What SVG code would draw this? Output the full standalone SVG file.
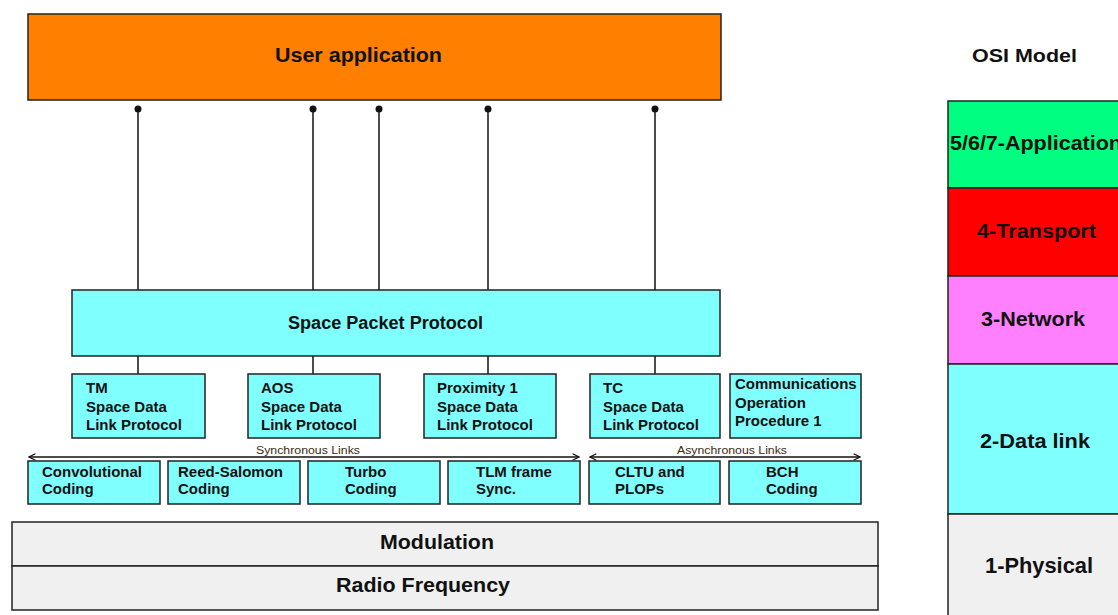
<svg xmlns="http://www.w3.org/2000/svg" width="1118" height="615" viewBox="0 0 1118 615">
<defs>
<style>
.box{stroke:#222;stroke-width:1.5}
.cy{fill:#80FFFF}
.t{font-family:"Liberation Sans",Arial,sans-serif;font-weight:bold;fill:#111}
.s{font-size:15px}
.big{font-size:20px}
.lnk{font-family:"Liberation Sans",Arial,sans-serif;font-size:10px;fill:#3a2a10}
.ln{stroke:#111;stroke-width:1.5;fill:none}
</style>
<marker id="ah" viewBox="0 0 10 10" refX="9" refY="5" markerWidth="8" markerHeight="8" orient="auto-start-reverse" markerUnits="userSpaceOnUse">
<path d="M1,1 L9,5 L1,9" fill="none" stroke="#111" stroke-width="1.5"/>
</marker>
</defs>
<rect width="1118" height="615" fill="#fff"/>

<g id="user-application">
<rect class="box" x="28" y="14" width="693" height="86" fill="#FF8000"/>
<text class="t" x="275" y="62" font-size="21" textLength="167" lengthAdjust="spacingAndGlyphs">User application</text>
</g>

<g id="connectors">
<line class="ln" x1="138" y1="109" x2="138" y2="290"/>
<line class="ln" x1="313" y1="109" x2="313" y2="290"/>
<line class="ln" x1="379" y1="109" x2="379" y2="290"/>
<line class="ln" x1="488" y1="109" x2="488" y2="290"/>
<line class="ln" x1="655" y1="109" x2="655" y2="290"/>
<circle cx="138" cy="109" r="3.5" fill="#111"/>
<circle cx="313" cy="109" r="3.5" fill="#111"/>
<circle cx="379" cy="109" r="3.5" fill="#111"/>
<circle cx="488" cy="109" r="3.5" fill="#111"/>
<circle cx="655" cy="109" r="3.5" fill="#111"/>
<line class="ln" x1="138" y1="356" x2="138" y2="374"/>
<line class="ln" x1="313" y1="356" x2="313" y2="374"/>
<line class="ln" x1="488" y1="356" x2="488" y2="374"/>
<line class="ln" x1="655" y1="356" x2="655" y2="374"/>
<line class="ln" x1="29" y1="457" x2="579" y2="457" marker-start="url(#ah)" marker-end="url(#ah)"/>
<line class="ln" x1="590" y1="457" x2="860" y2="457" marker-start="url(#ah)" marker-end="url(#ah)"/>
<text class="lnk" x="256" y="454" textLength="104" lengthAdjust="spacingAndGlyphs">Synchronous Links</text>
<text class="lnk" x="677" y="454" textLength="110" lengthAdjust="spacingAndGlyphs">Asynchronous Links</text>
</g>

<g id="space-packet-protocol">
<rect class="box cy" x="72" y="290" width="648" height="66"/>
<text class="t" x="288" y="329" font-size="17.5" textLength="195" lengthAdjust="spacingAndGlyphs">Space Packet Protocol</text>
</g>

<g id="tm">
<rect class="box cy" x="72" y="374" width="133" height="64"/>
<text class="t s" x="86" y="393">TM</text>
<text class="t s" x="86" y="412">Space Data</text>
<text class="t s" x="86" y="430">Link Protocol</text>
</g>
<g id="aos">
<rect class="box cy" x="248" y="374" width="132" height="64"/>
<text class="t s" x="261" y="393">AOS</text>
<text class="t s" x="261" y="412">Space Data</text>
<text class="t s" x="261" y="430">Link Protocol</text>
</g>
<g id="proximity1">
<rect class="box cy" x="424" y="374" width="132" height="64"/>
<text class="t s" x="437" y="393">Proximity 1</text>
<text class="t s" x="437" y="412">Space Data</text>
<text class="t s" x="437" y="430">Link Protocol</text>
</g>
<g id="tc">
<rect class="box cy" x="590" y="374" width="130" height="64"/>
<text class="t s" x="603" y="393">TC</text>
<text class="t s" x="603" y="412">Space Data</text>
<text class="t s" x="603" y="430">Link Protocol</text>
</g>
<g id="cop1">
<rect class="box cy" x="730" y="374" width="131" height="64"/>
<text class="t s" x="735" y="389">Communications</text>
<text class="t s" x="735" y="408">Operation</text>
<text class="t s" x="735" y="426">Procedure 1</text>
</g>

<g id="convolutional">
<rect class="box cy" x="28" y="461" width="132" height="43"/>
<text class="t s" x="42" y="477">Convolutional</text>
<text class="t s" x="42" y="494">Coding</text>
</g>
<g id="reed-salomon">
<rect class="box cy" x="168" y="461" width="132" height="43"/>
<text class="t s" x="178" y="477">Reed-Salomon</text>
<text class="t s" x="178" y="494">Coding</text>
</g>
<g id="turbo">
<rect class="box cy" x="308" y="461" width="132" height="43"/>
<text class="t s" x="345" y="477">Turbo</text>
<text class="t s" x="345" y="494">Coding</text>
</g>
<g id="tlm">
<rect class="box cy" x="448" y="461" width="132" height="43"/>
<text class="t s" x="476" y="477">TLM frame</text>
<text class="t s" x="476" y="494">Sync.</text>
</g>
<g id="cltu">
<rect class="box cy" x="589" y="461" width="131" height="43"/>
<text class="t s" x="615" y="477">CLTU and</text>
<text class="t s" x="615" y="494">PLOPs</text>
</g>
<g id="bch">
<rect class="box cy" x="729" y="461" width="132" height="43"/>
<text class="t s" x="766" y="477">BCH</text>
<text class="t s" x="766" y="494">Coding</text>
</g>

<g id="modulation">
<rect class="box" x="12" y="522" width="866" height="44" fill="#F0F0F0"/>
<text class="t" x="380" y="549" font-size="21" textLength="114" lengthAdjust="spacingAndGlyphs">Modulation</text>
</g>
<g id="radio-frequency">
<rect class="box" x="12" y="566" width="866" height="44" fill="#F0F0F0"/>
<text class="t" x="336" y="592" font-size="21" textLength="174" lengthAdjust="spacingAndGlyphs">Radio Frequency</text>
</g>

<g id="osi-model">
<text class="t" x="972" y="62" font-size="19" textLength="105" lengthAdjust="spacingAndGlyphs">OSI Model</text>
<rect class="box" x="948" y="101" width="175" height="87" fill="#00FF80"/>
<text class="t big" x="950" y="150" textLength="172" lengthAdjust="spacingAndGlyphs">5/6/7-Application</text>
<rect class="box" x="948" y="188" width="175" height="88" fill="#FF0000"/>
<text class="t big" x="977" y="238" textLength="119" lengthAdjust="spacingAndGlyphs">4-Transport</text>
<rect class="box" x="948" y="276" width="175" height="88" fill="#FF80FF"/>
<text class="t big" x="981" y="326" textLength="104" lengthAdjust="spacingAndGlyphs">3-Network</text>
<rect class="box" x="948" y="364" width="175" height="150" fill="#80FFFF"/>
<text class="t big" x="980" y="448" textLength="110" lengthAdjust="spacingAndGlyphs">2-Data link</text>
<rect class="box" x="948" y="514" width="175" height="105" fill="#F0F0F0"/>
<text class="t" x="985" y="573" font-size="22" textLength="108" lengthAdjust="spacingAndGlyphs">1-Physical</text>
</g>
</svg>
